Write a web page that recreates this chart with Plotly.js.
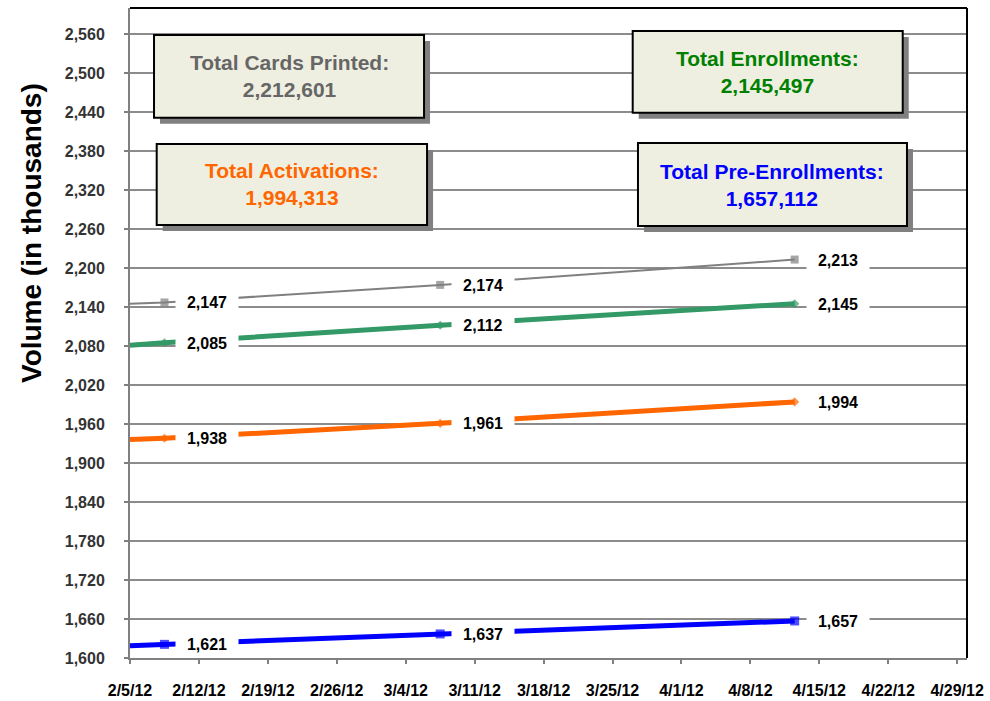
<!DOCTYPE html>
<html>
<head>
<meta charset="utf-8">
<script src="https://cdn.plot.ly/plotly-3.0.1.min.js"></script>
<style>html,body{margin:0;padding:0;background:#fff;}#chart{width:990px;height:701px;}</style>
</head>
<body>
<div id="chart"></div>
<script>
// Dates: first entry is the left edge of the plot, where the lines enter the chart
var dates = ['2012-02-05', '2012-02-08 12:00', '2012-03-07 12:00', '2012-04-12 12:00'];
var cardsPrinted   = [2145, 2147, 2174, 2213];
var enrollments    = [2081, 2085, 2112, 2145];
var activations    = [1936, 1938, 1961, 1994];
var preEnrollments = [1619, 1621, 1637, 1657];

var tickDates = ['2012-02-05','2012-02-12','2012-02-19','2012-02-26','2012-03-04','2012-03-11','2012-03-18','2012-03-25','2012-04-01','2012-04-08','2012-04-15','2012-04-22','2012-04-29'];
var tickLabels = ['2/5/12','2/12/12','2/19/12','2/26/12','3/4/12','3/11/12','3/18/12','3/25/12','4/1/12','4/8/12','4/15/12','4/22/12','4/29/12'];

var boxTitles = ['Total Cards Printed:', 'Total Activations:', 'Total Enrollments:', 'Total Pre-Enrollments:'];
var boxTotals = [2212601, 1994313, 2145497, 1657112];
var boxColors = ['#666666', '#ff6600', '#008000', '#0000ff'];

var font = 'Liberation Sans, Arial, sans-serif';

function series(y, color, width, symbol, msize) {
  return {
    x: dates, y: y, type: 'scatter', mode: 'lines+markers',
    line: {color: color, width: width},
    marker: {color: color, symbol: symbol, size: [0, msize, msize, msize], line: {width: 0}},
    hoverinfo: 'skip', showlegend: false, cliponaxis: true
  };
}

var traces = [
  series(cardsPrinted, '#808080', 2, 'square', 8),
  series(enrollments, '#339966', 5, 'diamond', 7),
  series(activations, '#ff6600', 5, 'diamond', 7),
  series(preEnrollments, '#0000ff', 5, 'square', 9)
];

var annotations = [];
[cardsPrinted, enrollments, activations, preEnrollments].forEach(function (arr) {
  for (var i = 1; i < arr.length; i++) {
    annotations.push({
      x: dates[i], y: arr[i], xref: 'x', yref: 'y',
      text: arr[i].toLocaleString('en-US'), showarrow: false,
      xshift: 43, bgcolor: '#ffffff', width: 60, height: 22, borderpad: 1,
      font: {family: font, size: 16, color: '#000000', weight: 'bold'}
    });
  }
});

// summary boxes (paper coordinates)
var boxes = [
  {x0: 0.0287, x1: 0.3513, y0: 0.8313, y1: 0.9585},
  {x0: 0.0319, x1: 0.3549, y0: 0.6662, y1: 0.7908},
  {x0: 0.6006, x1: 0.9232, y0: 0.8390, y1: 0.9646},
  {x0: 0.6069, x1: 0.9283, y0: 0.6646, y1: 0.7923}
];
var shapes = [];
var sx = 6 / 837, sy = 6 / 650;
boxes.forEach(function (b, i) {
  shapes.push({type: 'rect', xref: 'paper', yref: 'paper', x0: b.x0 + sx, x1: b.x1 + sx, y0: b.y0 - sy, y1: b.y1 - sy,
    fillcolor: '#808080', line: {width: 0}, layer: 'above'});
  shapes.push({type: 'rect', xref: 'paper', yref: 'paper', x0: b.x0, x1: b.x1, y0: b.y0, y1: b.y1,
    fillcolor: '#efefe1', line: {color: '#000000', width: 2}, layer: 'above'});
  annotations.push({
    xref: 'paper', yref: 'paper', x: (b.x0 + b.x1) / 2, y: (b.y0 + b.y1) / 2,
    xanchor: 'center', yanchor: 'middle',
    text: boxTitles[i] + '<br>' + boxTotals[i].toLocaleString('en-US'), showarrow: false,
    font: {family: font, size: 21, color: boxColors[i], weight: 'bold'}
  });
});
// top and right black border
shapes.push({type: 'line', xref: 'paper', yref: 'paper', x0: 0, x1: 1, y0: 1, y1: 1, line: {color: '#000', width: 2}});
shapes.push({type: 'line', xref: 'paper', yref: 'paper', x0: 1, x1: 1, y0: 0, y1: 1, line: {color: '#000', width: 2}});

annotations.push({
  xref: 'paper', yref: 'paper', x: -0.117, y: 0.654, textangle: -90, showarrow: false,
  xanchor: 'center', yanchor: 'middle',
  text: 'Volume (in thousands)', font: {family: font, size: 28, color: '#000', weight: 'bold'}
});

var layout = {
  width: 990, height: 701,
  margin: {l: 130, r: 23, t: 8, b: 43},
  paper_bgcolor: '#ffffff', plot_bgcolor: '#ffffff',
  xaxis: {
    type: 'date', range: ['2012-02-05', '2012-04-30'],
    tickmode: 'array', tickvals: tickDates, ticktext: tickLabels,
    ticks: 'outside', ticklen: 4, tickcolor: '#808080', tickwidth: 2,
    showgrid: false, zeroline: false, showline: true, linecolor: '#808080', linewidth: 2,
    tickfont: {family: font, size: 16, color: '#000', weight: 'bold'},
    ticklabelstandoff: 13
  },
  yaxis: {
    range: [1600, 2600], tick0: 1600, dtick: 60, tickformat: ',d',
    ticks: 'outside', ticklen: 4, tickcolor: '#808080', tickwidth: 2,
    showgrid: true, gridcolor: '#8c8c8c', gridwidth: 2,
    zeroline: false, showline: true, linecolor: '#808080', linewidth: 2,
    tickfont: {family: font, size: 16, color: '#333333', weight: 'bold'},
    ticklabelstandoff: 16
  },
  shapes: shapes,
  annotations: annotations,
  showlegend: false
};

Plotly.newPlot('chart', traces, layout, {staticPlot: true});
</script>
</body>
</html>
